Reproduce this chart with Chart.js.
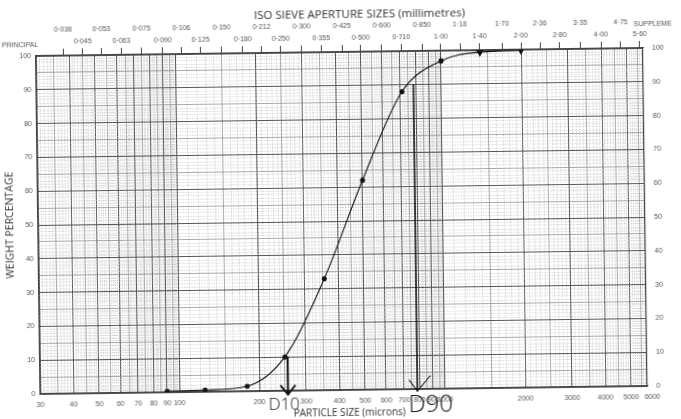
<!DOCTYPE html>
<html>
<head>
<meta charset="utf-8">
<script src="https://cdn.jsdelivr.net/npm/chart.js@4.4.1/dist/chart.umd.min.js"></script>
<style>
  html, body { margin: 0; padding: 0; background: #fff; overflow: hidden; }
  #psd { display: block; transform: rotate(-0.75deg); }
</style>
</head>
<body>
<canvas id="psd" width="681" height="419"></canvas>
<script>
// sieve analysis, cumulative % passing
const sizes = [90, 125, 180, 250, 355, 500, 710, 1000, 1400, 2000];
const passing = [0.3, 0.5, 1.5, 10, 33, 62, 88, 97, 99.4, 99.8];
const sizeTicks = [30, 40, 50, 60, 70, 80, 90, 100, 200, 300, 400, 500, 600, 700, 800, 900, 1000, 2000, 3000, 4000, 5000, 6000];
const percentTicks = [0, 10, 20, 30, 40, 50, 60, 70, 80, 90, 100];
const sieveSupplementary = ['0·038', '0·053', '0·075', '0·106', '0·150', '0·212', '0·300', '0·425', '0·600', '0·850', '1·18', '1·70', '2·36', '3·35', '4·75'];
const sievePrincipal = ['0·045', '0·063', '0·090', '0·125', '0·180', '0·250', '0·355', '0·500', '0·710', '1·00', '1·40', '2·00', '2·80', '4·00', '5·60'];
const d10 = 256;
const d90 = 785;

// the printed paper stops a little short of its last label
const xMin = 30;
const xMax = 5750;

Chart.defaults.font.family = '"Liberation Sans", Arial, sans-serif';
Chart.defaults.color = '#555';

const toMicrons = (label) => parseFloat(label.replace('·', '.')) * 1000;

// graph paper lines: major at labelled sizes, tenths in between
const xGrid = [];
for (let i = 0; i < sizeTicks.length - 1; i++) {
    const a = sizeTicks[i];
    const b = sizeTicks[i + 1];
    for (let k = 0; k < 10; k++) {
        xGrid.push({ value: a + (b - a) * k / 10, level: k === 0 ? 2 : (k === 5 ? 1 : 0) });
    }
}
xGrid.push({ value: sizeTicks[sizeTicks.length - 1], level: 2 });

const yGrid = [];
for (let v = 0; v <= 100; v++) {
    yGrid.push({ value: v, level: v % 10 === 0 ? 2 : (v % 5 === 0 ? 1 : 0) });
}

const sieveTicks = [
    ...sieveSupplementary.map(s => ({ value: toMicrons(s), lines: [s, ''] })),
    ...sievePrincipal.map(s => ({ value: toMicrons(s), lines: ['', s] })),
].sort((a, b) => a.value - b.value);

const offPaper = (ctx) => ctx.tick && ctx.tick.value > xMax + 1e-6;
const gridColor = (ctx) => {
    if (offPaper(ctx)) return 'rgba(0,0,0,0)';
    const lvl = ctx.tick ? ctx.tick.level : 2;
    return lvl === 2 ? '#555' : (lvl === 1 ? '#868686' : '#b4b4b4');
};
const gridWidth = (ctx) => {
    const lvl = ctx.tick ? ctx.tick.level : 2;
    return lvl === 2 ? 1 : 0.7;
};
const gridDash = (ctx) => (ctx.tick && ctx.tick.level === 0 ? [1, 1.5] : []);

const annotations = {
    id: 'annotations',
    afterDatasetsDraw(chart) {
        const { ctx, scales: { x, y } } = chart;
        const bottom = y.bottom;
        ctx.save();
        ctx.strokeStyle = '#111';
        ctx.fillStyle = '#111';
        ctx.lineCap = 'round';
        ctx.lineJoin = 'round';

        // D10 arrow
        const x10 = x.getPixelForValue(d10);
        ctx.lineWidth = 2;
        ctx.beginPath();
        ctx.moveTo(x10, y.getPixelForValue(10));
        ctx.lineTo(x10, bottom + 4);
        ctx.moveTo(x10 - 7, bottom - 5);
        ctx.lineTo(x10, bottom + 4);
        ctx.lineTo(x10 + 7, bottom - 5);
        ctx.stroke();

        // D90 line with tick
        const x90 = x.getPixelForValue(d90);
        ctx.lineWidth = 1.6;
        ctx.beginPath();
        ctx.moveTo(x90, y.getPixelForValue(90));
        ctx.lineTo(x90, bottom + 2);
        ctx.stroke();
        ctx.lineWidth = 1.1;
        ctx.beginPath();
        ctx.moveTo(x90 - 8, bottom - 9);
        ctx.lineTo(x90, bottom + 2);
        ctx.lineTo(x90 + 13, bottom - 13);
        ctx.stroke();

        // handwritten labels
        ctx.font = '300 17px "Open Sans", sans-serif';
        ctx.textBaseline = 'middle';
        ctx.textAlign = 'center';
        ctx.fillText('D10', x10 - 4, bottom + 14);
        ctx.font = '300 24px "Open Sans", sans-serif';
        ctx.textAlign = 'left';
        ctx.fillText('D90', x90 - 9, bottom + 16);

        // printed texts
        ctx.fillStyle = '#333';
        ctx.font = '10px "Open Sans", sans-serif';
        ctx.textAlign = 'center';
        ctx.fillText('PARTICLE SIZE (microns)', 347, bottom + 23);
        ctx.font = '11.5px "Open Sans", sans-serif';
        ctx.fillText('ISO SIEVE APERTURE SIZES (millimetres)', 362, 15);
        ctx.font = '7px "Liberation Sans", sans-serif';
        ctx.fillStyle = '#555';
        ctx.textAlign = 'left';
        ctx.fillText('PRINCIPAL', 4, 41);
        ctx.fillText('SUPPLEME', 636, 28);
        ctx.restore();
    }
};

new Chart(document.getElementById('psd'), {
    type: 'line',
    data: {
        datasets: [{
            label: 'Passing',
            data: sizes.map((s, i) => ({ x: s, y: passing[i] })),
            borderColor: '#111',
            borderWidth: 1.1,
            cubicInterpolationMode: 'monotone',
            pointBackgroundColor: '#111',
            pointBorderColor: '#111',
            pointRadius: sizes.map(s => (s >= 1400 ? 3.5 : 2)),
            pointStyle: sizes.map(s => (s >= 1400 ? 'triangle' : 'circle')),
            pointRotation: sizes.map(s => (s >= 1400 ? 180 : 0)),
            fill: false,
        }]
    },
    options: {
        responsive: false,
        animation: false,
        layout: { padding: 0 },
        plugins: {
            legend: { display: false },
            tooltip: { enabled: false }
        },
        scales: {
            x: {
                type: 'logarithmic',
                position: 'bottom',
                min: xMin,
                max: xMax,
                afterBuildTicks: (scale) => { scale.ticks = xGrid.map(g => ({ value: g.value, level: g.level })); },
                afterFit: (scale) => { scale.height = 29; },
                ticks: {
                    autoSkip: false,
                    maxRotation: 0,
                    padding: 7,
                    font: { size: 7 },
                    callback: (value) => (sizeTicks.includes(value) ? String(value) : '')
                },
                grid: { color: gridColor, lineWidth: gridWidth, drawTicks: false },
                border: { color: '#444', width: 1.2, dash: gridDash }
            },
            xTop: {
                type: 'logarithmic',
                position: 'top',
                min: xMin,
                max: xMax,
                afterBuildTicks: (scale) => { scale.ticks = sieveTicks.map(t => ({ value: t.value })); },
                afterFit: (scale) => { scale.height = 52; },
                ticks: {
                    autoSkip: false,
                    maxRotation: 0,
                    padding: 0,
                    font: { size: 7, lineHeight: 1.85 },
                    callback: (value) => {
                        const t = sieveTicks.find(s => Math.abs(s.value - value) < 0.5);
                        return t ? t.lines : '';
                    }
                },
                grid: { drawOnChartArea: false, color: '#444', tickLength: 7, lineWidth: 1 },
                border: { color: '#444', width: 1.2 }
            },
            y: {
                type: 'linear',
                position: 'left',
                min: 0,
                max: 100,
                afterBuildTicks: (scale) => { scale.ticks = yGrid.map(g => ({ value: g.value, level: g.level })); },
                afterFit: (scale) => { scale.width = 38; },
                ticks: {
                    autoSkip: false,
                    padding: 5,
                    font: { size: 7 },
                    callback: (value) => (percentTicks.includes(value) ? String(value) : '')
                },
                title: {
                    display: true,
                    text: 'WEIGHT PERCENTAGE',
                    color: '#333',
                    font: { size: 10.5, family: '"Open Sans", sans-serif' }
                },
                grid: { color: gridColor, lineWidth: gridWidth, drawTicks: false },
                border: { color: '#444', width: 1.2, dash: gridDash }
            },
            yRight: {
                type: 'linear',
                position: 'right',
                min: 0,
                max: 100,
                afterBuildTicks: (scale) => { scale.ticks = percentTicks.map(v => ({ value: v })); },
                afterFit: (scale) => { scale.width = 36; },
                ticks: {
                    autoSkip: false,
                    padding: 9,
                    font: { size: 7 }
                },
                grid: { drawOnChartArea: false, drawTicks: false },
                border: { color: '#444', width: 1.2 }
            }
        }
    },
    plugins: [annotations]
});
</script>
</body>
</html>
